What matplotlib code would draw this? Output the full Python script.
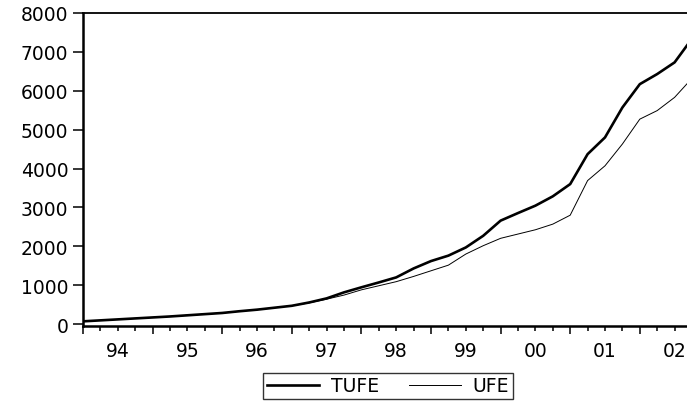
import matplotlib
matplotlib.use("Agg")
import matplotlib.pyplot as plt
import numpy as np
from matplotlib.ticker import FixedLocator, FuncFormatter

# quarterly observations, 1994Q1 .. 2002Q4
start_year = 1994
tufe = [70, 95, 120, 145, 170, 195, 225, 255, 285, 330, 370, 420,
        470, 555, 660, 815, 945, 1070, 1200, 1430, 1620, 1760, 1970, 2270,
        2660, 2855, 3045, 3285, 3600, 4370, 4800, 5570, 6170, 6430, 6730, 7340]
ufe = [70, 95, 120, 145, 170, 195, 225, 255, 285, 330, 370, 420,
       470, 545, 640, 745, 880, 985, 1090, 1225, 1370, 1515, 1800, 2015,
       2205, 2315, 2425, 2570, 2800, 3690, 4070, 4630, 5270, 5490, 5830, 6320]
year_labels = ["94", "95", "96", "97", "98", "99", "00", "01", "02"]
y_ticks = [0, 1000, 2000, 3000, 4000, 5000, 6000, 7000, 8000]

plt.rcParams["font.family"] = "DejaVu Sans"
fs = 13.5

x = start_year + np.arange(len(tufe)) / 4

fig = plt.figure(figsize=(6.87, 4.02), dpi=100)
W, H = 687, 402
ax = fig.add_axes([83 / W, (H - 327) / H, 617 / W, 313 / H])

ax.plot(x, tufe, color="black", lw=1.9, label="TUFE", solid_joinstyle="round")
ax.plot(x, ufe, color="black", lw=0.7, label="UFE")

ax.set_xlim(start_year, start_year + 617 / 69.6)
ax.set_ylim(-50, 8000)

ax.set_yticks(y_ticks)
ax.tick_params(axis="y", direction="out", length=7, width=1.1, pad=3.5,
               labelsize=fs)

years = np.arange(start_year, start_year + len(year_labels))
quarters = [y + q / 4 for y in years for q in (1, 2, 3)]
ax.xaxis.set_major_locator(FixedLocator(years))
ax.xaxis.set_major_formatter(FuncFormatter(lambda v, p: ""))
ax.xaxis.set_minor_locator(FixedLocator(quarters))


def mid_label(v, p):
    if abs((v % 1) - 0.5) < 1e-6:
        i = int(np.floor(v)) - start_year
        if 0 <= i < len(year_labels):
            return year_labels[i]
    return ""


ax.xaxis.set_minor_formatter(FuncFormatter(mid_label))
ax.tick_params(axis="x", which="major", direction="out", length=6, width=1.1)
ax.tick_params(axis="x", which="minor", direction="out", length=3.6, width=1.1,
               pad=7, labelsize=fs)

for s in ["left", "bottom"]:
    ax.spines[s].set_linewidth(1.8)
ax.spines["top"].set_linewidth(1.3)
ax.spines["right"].set_visible(False)

leg = fig.legend(loc="center", bbox_to_anchor=(388 / W, 1 - 387 / H), ncol=2,
                 frameon=True, fancybox=False, edgecolor="black",
                 prop={"size": fs}, handlelength=2.8,
                 handletextpad=0.6, columnspacing=1.6, borderpad=0.2,
                 borderaxespad=0)
leg.get_frame().set_linewidth(1.0)

fig.savefig("out.png", dpi=100)
